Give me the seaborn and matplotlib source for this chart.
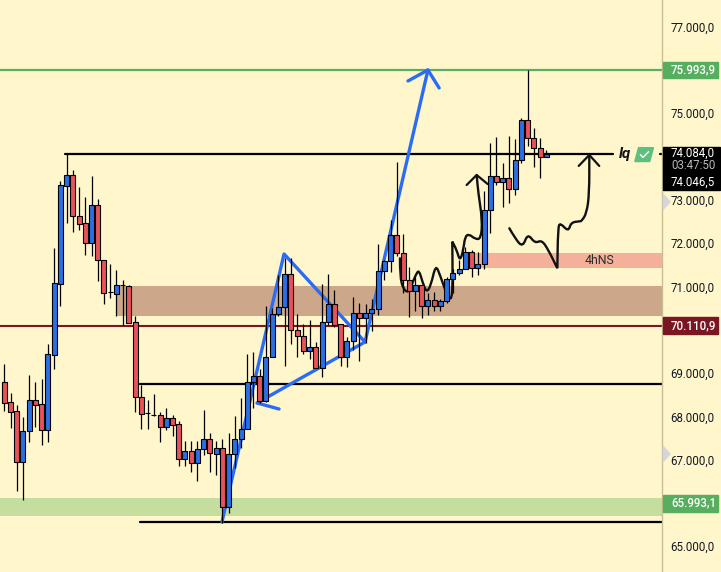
# -*- coding: utf-8 -*-
import numpy as np
import pandas as pd
import matplotlib
matplotlib.use("Agg")
import matplotlib.pyplot as plt
from matplotlib.patches import Rectangle, Polygon, PathPatch
from matplotlib.path import Path
import seaborn as sns

BG = "#FFF6CC"
BLUE = "#2B6FE6"
RED = "#E8525A"
DRAW_BLUE = "#2A6CF5"

# candles
opens = [68787, 68325, 68118, 66956, 67649, 68371, 68279, 67672, 69425, 71063,
         73324, 73562, 72616, 72455, 72009, 72870, 71601, 70863, 70832, 71024,
         71001, 70171, 68441, 68072, 68041, 68025, 67764, 67956, 67818, 67003,
         67195, 66933, 67241, 67472, 67141, 67262, 65900, 67123, 67470, 67700,
         68793, 68924, 68363, 69362, 70354, 70531, 71277, 69985, 69862, 69501,
         69593, 69109, 70170, 70585, 70124, 69378, 69747, 70378, 70262, 70378,
         70470, 71346, 71578, 72178, 71778, 71140, 70886, 71025, 70540, 70678,
         70540, 70655, 71163, 71301, 71394, 71786, 71417, 71509, 72755, 73539,
         73416, 73493, 73239, 73908, 74831, 74416, 74201, 73977]
highs = [69210, 68533, 68264, 67979, 68948, 68794, 68864, 69671, 71886, 73431,
         74054, 73678, 73293, 73055, 73539, 73016, 71601, 71517, 71378, 71147,
         71024, 70309, 68725, 68379, 68510, 68095, 68187, 68025, 67887, 67426,
         67426, 67426, 68148, 67603, 67426, 67476, 67622, 68007, 68415, 69432,
         69485, 69086, 70547, 70493, 71254, 71646, 71646, 70362, 70131, 70224,
         69724, 71054, 71285, 70916, 70124, 69839, 70747, 70608, 70593, 70708,
         71977, 71600, 72532, 73862, 72209, 71440, 71225, 71025, 70840, 70879,
         70700, 71225, 71400, 71609, 71917, 71840, 71800, 73201, 74300, 74439,
         73839, 74470, 74393, 74877, 75992, 74647, 74416, 74147]
lows = [68125, 67741, 66264, 66057, 67410, 67764, 67326, 67410, 69094, 70555,
        72470, 72263, 72309, 71724, 71701, 71124, 70602, 70740, 70317, 70109,
        70163, 68102, 67695, 67718, 68018, 67395, 67672, 67556, 66841, 66841,
        66703, 66495, 67095, 66703, 66656, 65537, 65768, 66807, 67268, 67700,
        68191, 68307, 68337, 69362, 70316, 69170, 69670, 69378, 69439, 69316,
        69109, 68916, 70108, 70070, 69170, 69147, 69532, 69286, 69685, 69970,
        70339, 71146, 71340, 71709, 70840, 70302, 70440, 70263, 70340, 70440,
        70440, 70609, 70840, 71263, 71394, 71225, 71263, 71394, 72240, 73339,
        72839, 72916, 73109, 73839, 74239, 73747, 73508, 73977]
closes = [68318, 68110, 66956, 67656, 68371, 68271, 67672, 69433, 71071, 73331,
          73562, 72616, 72447, 72009, 72870, 71601, 70855, 70863, 71024, 71024,
          70163, 68441, 68064, 68072, 68041, 67764, 67956, 67810, 67003, 67195,
          66933, 67241, 67472, 67149, 67264, 65900, 67123, 67470, 67700, 68798,
          68924, 68363, 69362, 70354, 70531, 71277, 69985, 69862, 69501, 69593,
          69109, 70170, 70585, 70108, 69378, 69747, 70378, 70262, 70378, 70470,
          71346, 71577, 72178, 71778, 71140, 70886, 71025, 70540, 70678, 70540,
          70655, 71163, 71301, 71394, 71786, 71417, 71509, 72755, 73539, 73416,
          73493, 73239, 73908, 74831, 74416, 74201, 73977, 74062]

# hand drawn lines on the chart, (bar number, price)
flag_bar = [34.94, 44.9, 57.9, 40.56, 44.1]
flag_price = [65560, 71746, 69715, 68307, 68168]
up_bar = [57.9, 68.0]
up_price = [69715, 75992]
up_head_bar = [64.8, 68.0, 69.8]
up_head_price = [75739, 75992, 75577]

curve_a_bar = [63.51, 63.51, 64.05, 64.85, 65.39, 66.03, 66.56, 67.10, 67.79, 68.49,
               69.24, 69.93, 70.58, 71.27, 71.81, 71.97, 71.91, 71.91, 72.61, 73.14, 73.68,
               73.95, 74.59, 75.55, 76.51, 76.73, 76.09, 75.82]
curve_a_price = [71646, 71223, 70931, 70854, 71031, 71262, 71380, 71108, 70850, 71031,
                 71500, 71262, 70992, 70746, 70700, 71069, 72031, 72031, 71838, 71580, 71838,
                 72146, 72207, 72092, 72092, 72530, 73146, 73569]
head_a_bar = [74.21, 75.82, 77.58]
head_a_price = [73338, 73569, 73361]

curve_b_bar = [81.07, 81.98, 83.21, 84.01, 85.19, 86.26, 87.33, 88.77, 88.77, 88.88, 89.20,
               90.54, 90.97, 92.41, 92.67, 93.47, 93.9, 93.9]
curve_b_price = [72339, 72108, 71900, 72220, 71990, 72070, 71839, 71416, 71416, 72339, 72470,
                 72260, 72477, 72500, 72509, 72686, 73147, 74031]
head_b_bar = [92.2, 93.9, 95.5]
head_b_price = [73778, 74031, 73778]

# levels and zones
tick_prices = [77000, 75000, 73000, 72000, 71000, 69000, 68000, 67000, 65000]
tick_labels = ["77.000,0", "75.000,0", "73.000,0", "72.000,0", "71.000,0",
               "69.000,0", "68.000,0", "67.000,0", "65.000,0"]
green_level = 75992
red_level = 70085
lq_level = 74055
mid_level = 68745
low_level = 65555

df = pd.DataFrame({"open": opens, "high": highs, "low": lows, "close": closes})
df["bar"] = np.arange(len(df))
df["bottom"] = df[["open", "close"]].min(axis=1)
df["body"] = (df["close"] - df["open"]).abs()
df["up"] = df["close"] >= df["open"]

sns.set_theme(style="white", rc={"axes.facecolor": BG, "figure.facecolor": BG})
plt.rcParams["font.family"] = ["Roboto", "DejaVu Sans"]

fig = plt.figure(figsize=(7.21, 5.72), dpi=100)
ax = fig.add_axes([0, 0, 662 / 721, 1])


def smooth_curve(xs, ys):
    # quadratic spline with the read points as control points
    pts = list(zip(xs, ys))
    verts = [pts[0]]
    codes = [Path.MOVETO]
    for k in range(1, len(pts) - 1):
        mid = ((pts[k][0] + pts[k + 1][0]) / 2, (pts[k][1] + pts[k + 1][1]) / 2)
        verts += [pts[k], mid]
        codes += [Path.CURVE3, Path.CURVE3]
    verts.append(pts[-1])
    codes.append(Path.LINETO)
    ax.add_patch(PathPatch(Path(verts, codes), fill=False, edgecolor="#111111", lw=1.7,
                           capstyle="round", zorder=3))


# zones
ax.axhspan(65699, 66122, color="#C5DD9F", lw=0, zorder=1)
ax.fill_between([18, 106], 70322, 71007, color="#CDA78A", lw=0, zorder=1)
ax.fill_between([75.6, 106], 71423, 71762, color="#F5B09A", lw=0, zorder=1)

# levels
ax.axhline(green_level, color="#5CAF62", lw=1.6, zorder=2)
ax.axhline(red_level, color="#7A1622", lw=1.5, zorder=2)
ax.plot([9.8, 97.7], [lq_level, lq_level], color="black", lw=1.6, zorder=2)
ax.plot([105.2, 106], [lq_level, lq_level], color="black", lw=1.6, zorder=2)
ax.plot([21.8, 106], [mid_level, mid_level], color="black", lw=1.6, zorder=2)
ax.plot([21.8, 106], [low_level, low_level], color="black", lw=1.6, zorder=2)

# drawings
for xs, ys in [(flag_bar, flag_price), (up_bar, up_price), (up_head_bar, up_head_price)]:
    sns.lineplot(x=xs, y=ys, sort=False, estimator=None, color=DRAW_BLUE, lw=2.4,
                 ax=ax, zorder=3, solid_joinstyle="round")
for xs, ys in [(head_a_bar, head_a_price), (head_b_bar, head_b_price)]:
    sns.lineplot(x=xs, y=ys, sort=False, estimator=None, color="#111111", lw=1.6,
                 ax=ax, zorder=3, solid_joinstyle="round")
smooth_curve(curve_a_bar, curve_a_price)
smooth_curve(curve_b_bar, curve_b_price)

# candles
ax.vlines(df["bar"], df["low"], df["high"], color="black", lw=0.9, zorder=4)
for is_up, col in [(True, BLUE), (False, RED)]:
    part = df[df["up"] == is_up]
    sns.barplot(x=part["bar"].values, y=part["body"].values, bottom=part["bottom"].values,
                native_scale=True, color=col, saturation=1, width=0.8, errorbar=None,
                edgecolor="black", linewidth=0.8, ax=ax, zorder=5)

ax.set_xlim(-0.69, 105.57)
ax.set_ylim(64406, 77608)
ax.set_xticks([])
ax.set_xlabel("")
ax.set_ylabel("")
ax.yaxis.tick_right()
ax.set_yticks(tick_prices)
ax.set_yticklabels(tick_labels, fontsize=8.3, color="#131722")
ax.tick_params(axis="y", length=0, pad=6)
for name in ["top", "left", "bottom"]:
    ax.spines[name].set_visible(False)
ax.spines["right"].set_color("#C8BE93")
ax.spines["right"].set_linewidth(1.0)

ax.text(95.5, 71590, "4hNS", fontsize=8.8, color="#2A2A2A", ha="center", va="center", zorder=6)
ax.text(99.7, lq_level, "lq", fontsize=11, fontstyle="italic", fontweight="bold",
        color="#111111", ha="center", va="center", zorder=6)

# little tag next to lq
tag_x = [101.8, 104.2, 103.6, 101.2]
tag_y = [74200, 74200, 73880, 73880]
ax.add_patch(Polygon(list(zip(tag_x, tag_y)), closed=True, color="#5FBF80", zorder=6))
ax.plot([102.1, 102.5, 103.4], [74040, 73975, 74105], color="white", lw=1, zorder=7)

# price boxes on the axis
trans = ax.get_yaxis_transform()


def price_box(price, label, col):
    ax.add_patch(Rectangle((1.001, price - 195), 0.083, 390, transform=trans, color=col,
                           clip_on=False, zorder=6))
    ax.text(1.0136, price, label, transform=trans, fontsize=8.3, color="white",
            fontweight="medium", va="center", clip_on=False, zorder=7)


price_box(75992, "75.993,9", "#56AE5E")
price_box(70085, "70.110,9", "#7A1622")
price_box(65990, "65.993,1", "#56AE5E")

# black box with price and countdown
ax.add_patch(Rectangle((1.001, 73223), 0.087, 992, transform=trans, color="black",
                       clip_on=False, zorder=6))
for price, label, col in [(74077, "74.084,0", "white"), (73777, "03:47:50", "#B8B8B8"),
                          (73407, "74.046,5", "white")]:
    ax.text(1.0136, price, label, transform=trans, fontsize=8.3, color=col, va="center",
            clip_on=False, zorder=7)

# small grey markers on the axis
for price in [72950, 67130]:
    ax.add_patch(Polygon([(1.002, price + 170), (1.012, price), (1.002, price - 170)], closed=True,
                         transform=trans, color="#D5D5DC", clip_on=False, zorder=6))

fig.savefig("out.png", dpi=100, facecolor=BG)
